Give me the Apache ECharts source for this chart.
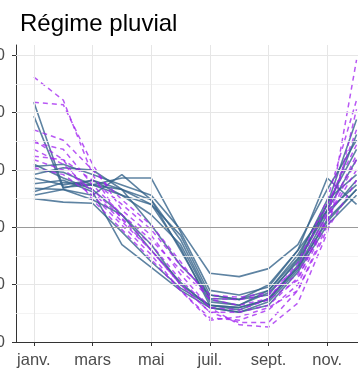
<!DOCTYPE html>
<html>
<head>
<meta charset="utf-8">
<script src="https://cdn.jsdelivr.net/npm/echarts@6/dist/echarts.min.js"></script>
<style>html,body{margin:0;padding:0;background:#fff}#c{width:358px;height:368px}</style>
</head>
<body>
<div id="c"></div>
<script>
const titleText = 'Régime pluvial';
const months = [1,2,3,4,5,6,7,8,9,10,11,12];
const xTickValues = [1,3,5,7,9,11];
const xTickLabels = ['janv.','mars','mai','juil.','sept.','nov.'];
const yTickValues = [0,50,100,150,200,250];
const yMinorValues = [25,75,125,175,225];
const refValue = 100;

const blueSeries = [
  [209,135,137,133,120,93,41,37,50,80,115,159],
  [197,134,141,128,111,85,37,32,45,76,120,168],
  [153,155,146,137,128,98,60,57,64,85,133,176],
  [150,148,137,143,143,96,45,41,48,80,143,120],
  [143,137,141,133,124,89,38,37,45,73,124,146],
  [134,133,128,146,124,80,35,32,43,70,114,137],
  [131,139,137,128,120,82,32,28,38,65,111,141],
  [125,122,121,96,70,47,32,30,37,65,105,133],
  [155,143,133,111,80,52,30,26,35,63,107,133],
  [138,141,131,85,65,45,30,26,32,61,102,128],
  [128,133,124,111,85,50,32,30,37,67,120,194],
  [146,152,150,133,102,67,41,37,41,72,115,181]
];
const purpleSeries = [
  [231,211,146,107,80,50,26,17,17,45,102,246],
  [209,207,155,115,93,59,30,15,13,34,95,203],
  [185,176,150,124,102,70,37,32,38,69,124,211],
  [174,168,137,111,89,63,38,37,41,59,115,185],
  [162,159,141,120,98,67,41,39,43,65,120,172],
  [159,150,133,108,85,54,30,28,37,54,111,163],
  [152,146,128,102,76,45,21,19,28,50,107,159],
  [168,155,131,105,80,50,26,26,32,56,108,150],
  [176,159,124,98,72,45,19,22,30,45,98,141]
];

const toData = vals => months.map((m,i)=>[m, vals[i]]);

const series = [];
series.push({
  type:'line', data:[], silent:true, z:1,
  markLine:{
    silent:true, symbol:['none','none'], animation:false,
    label:{show:false},
    data: [
      ...yMinorValues.map(v=>({yAxis:v, lineStyle:{color:'#f0f0f0', width:0.8, type:'solid'}})),
      ...yTickValues.filter(v=>v!==0 && v!==refValue).map(v=>({yAxis:v, lineStyle:{color:'#e6e6e6', width:1, type:'solid'}})),
      ...xTickValues.map(v=>({xAxis:v, lineStyle:{color:'#e6e6e6', width:1, type:'solid'}})),
      {yAxis:refValue, lineStyle:{color:'#9a9a9a', width:1, type:'solid'}}
    ]
  }
});
blueSeries.forEach((vals,i)=>series.push({
  type:'line', name:'b'+i, data:toData(vals), showSymbol:false, z:2,
  lineStyle:{color:'#36648B', width:1.6, opacity:0.8, type:'solid'}
}));
purpleSeries.forEach((vals,i)=>series.push({
  type:'line', name:'p'+i, data:toData(vals), showSymbol:false, z:3,
  lineStyle:{color:'#A020F0', width:1.5, opacity:0.75, type:[5,4]}
}));

const chart = echarts.init(document.getElementById('c'), null, {renderer:'canvas'});
chart.setOption({
  animation:false,
  backgroundColor:'#fff',
  title:{text:titleText, left:15, top:7, textStyle:{fontFamily:'Liberation Sans', fontSize:24, fontWeight:'normal', color:'#000'}},
  grid:{left:16, right:0, top:45, bottom:26, containLabel:false, outerBoundsMode:'none'},
  xAxis:{
    type:'value', min:0.39, max:12.05,
    axisLine:{show:true, onZero:false, lineStyle:{color:'#333', width:1}},
    axisTick:{show:true, length:4, lineStyle:{color:'#333'}, customValues:xTickValues},
    axisLabel:{customValues:xTickValues, margin:10, color:'#4d4d4d', fontFamily:'Liberation Sans', fontSize:16.5,
      formatter:v=>{const k=xTickValues.indexOf(Math.round(v)); return k>=0?xTickLabels[k]:'';}},
    splitLine:{show:false}
  },
  yAxis:{
    type:'value', min:0, max:259,
    axisLine:{show:true, onZero:false, lineStyle:{color:'#333', width:1}},
    axisTick:{show:true, length:4, lineStyle:{color:'#333'}, customValues:yTickValues},
    axisLabel:{customValues:yTickValues, margin:11, color:'#4d4d4d', fontFamily:'Liberation Sans', fontSize:16.5},
    splitLine:{show:false}
  },
  series:series
});
</script>
</body>
</html>
